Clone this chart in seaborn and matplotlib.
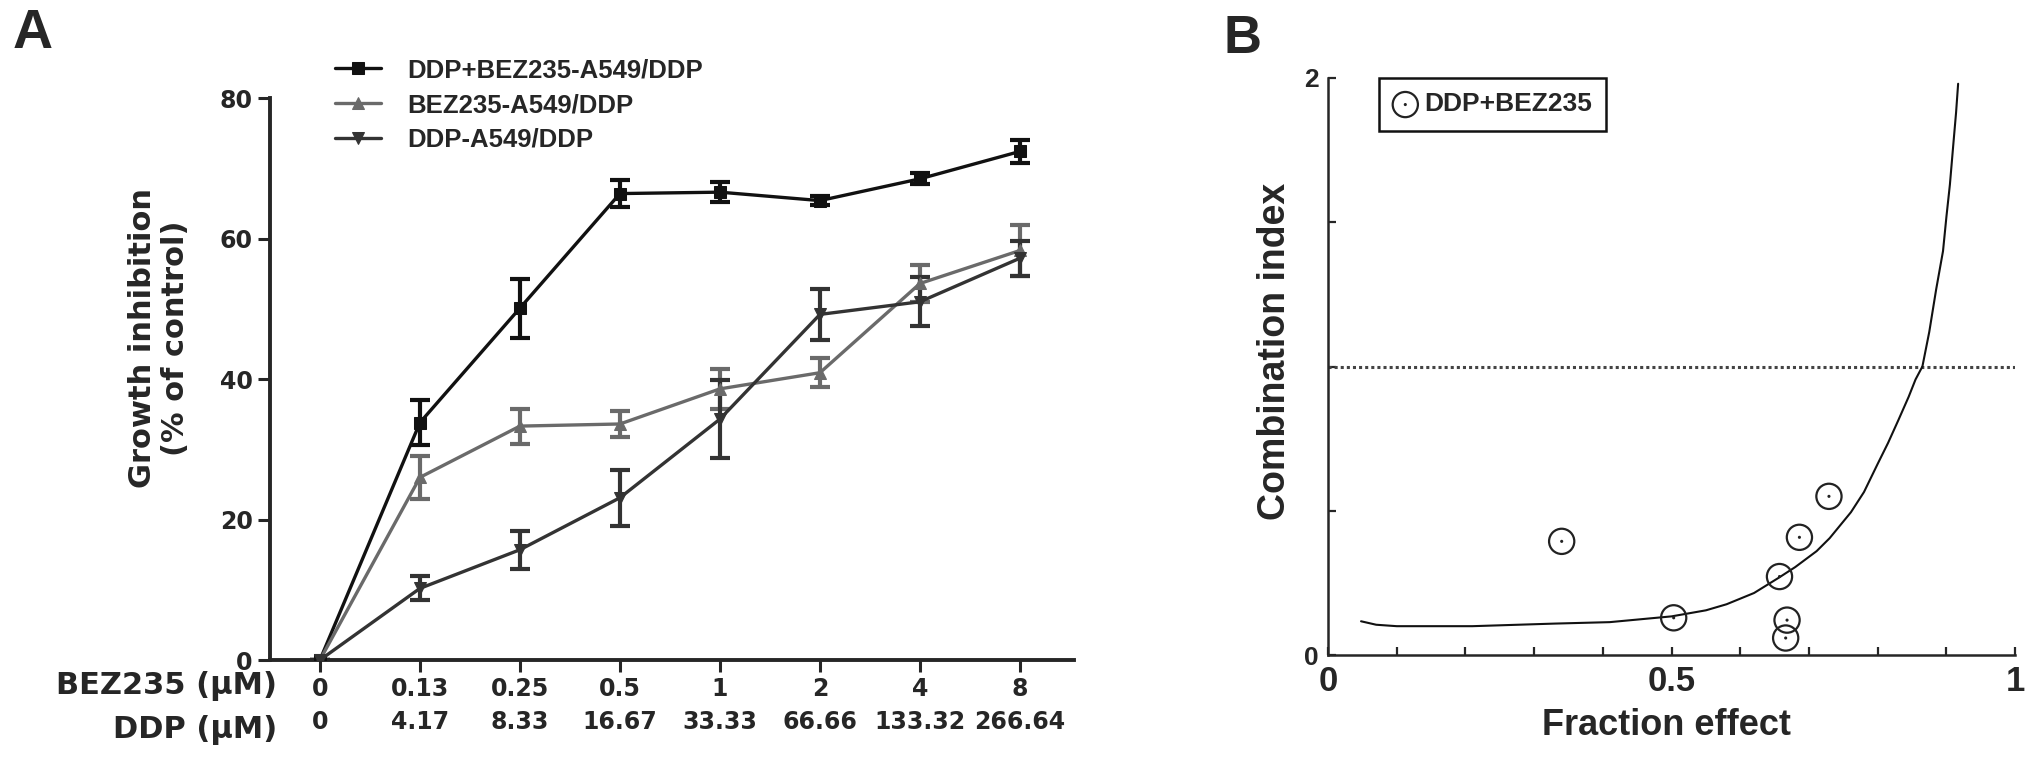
import numpy as np
import matplotlib
matplotlib.use("Agg")
import matplotlib.pyplot as plt
import seaborn as sns
from matplotlib.legend_handler import HandlerTuple

# ========= DATA =========
bez_doses = ["0", "0.13", "0.25", "0.5", "1", "2", "4", "8"]
ddp_doses = ["0", "4.17", "8.33", "16.67", "33.33", "66.66", "133.32", "266.64"]

combo_mean = [0, 33.8, 50.1, 66.4, 66.6, 65.4, 68.5, 72.4]
combo_err = [0, 3.2, 4.2, 1.9, 1.4, 0.6, 0.8, 1.6]
bez_mean = [0, 26.0, 33.3, 33.6, 38.6, 40.9, 53.6, 58.3]
bez_err = [0, 3.1, 2.5, 1.8, 2.8, 2.1, 2.6, 3.6]
ddp_mean = [0, 10.2, 15.7, 23.1, 34.3, 49.2, 51.0, 57.2]
ddp_err = [0, 1.7, 2.7, 4.0, 5.6, 3.6, 3.5, 2.5]

series_names = ["DDP+BEZ235-A549/DDP", "BEZ235-A549/DDP", "DDP-A549/DDP"]

# panel B: fraction affected vs combination index
fa_points = [0.34, 0.503, 0.657, 0.686, 0.729, 0.668, 0.666]
ci_points = [0.394, 0.129, 0.272, 0.408, 0.550, 0.121, 0.059]

curve_fa = [0.048, 0.07, 0.10, 0.21, 0.33, 0.41, 0.50, 0.55, 0.58, 0.62, 0.656,
            0.68, 0.711, 0.73, 0.761, 0.78, 0.80, 0.815, 0.83, 0.845, 0.855,
            0.865, 0.875, 0.885, 0.895, 0.90, 0.905, 0.91, 0.914, 0.917]
curve_ci = [0.117, 0.105, 0.10, 0.10, 0.109, 0.114, 0.134, 0.155, 0.176, 0.215, 0.268,
            0.305, 0.36, 0.405, 0.495, 0.565, 0.663, 0.735, 0.814, 0.895, 0.955,
            1.0, 1.12, 1.267, 1.40, 1.52, 1.63, 1.77, 1.88, 1.98]

# ========= STYLE =========
sns.set_style("ticks")
plt.rcParams["font.family"] = ["DejaVu Sans"]
ARIAL = ["Liberation Sans", "DejaVu Sans"]

fig = plt.figure(figsize=(20.31, 7.57), dpi=100)
axA = fig.add_axes([0.1329, 0.1281, 0.3959, 0.7424])
axB = fig.add_axes([0.6539, 0.1347, 0.3383, 0.7623])

# ========= PANEL A =========
x_pos = np.arange(len(bez_doses))
colors = ["#111111", "#6a6a6a", "#333333"]
markers = ["s", "^", "v"]
means = [combo_mean, bez_mean, ddp_mean]
errs = [combo_err, bez_err, ddp_err]

for name, m, e, c, mk in zip(series_names, means, errs, colors, markers):
    axA.errorbar(x_pos, m, yerr=e, fmt="none", ecolor=c, elinewidth=3.0,
                 capsize=7, capthick=3.0, zorder=2)
    sns.lineplot(x=x_pos, y=m, ax=axA, color=c, marker=mk, markersize=9,
                 markeredgecolor=c, linewidth=2.4, label=name, zorder=3)

handles, labels = axA.get_legend_handles_labels()
if axA.get_legend() is not None:
    axA.get_legend().remove()
fig.legend(handles, labels, loc="upper left", bbox_to_anchor=(0.165, 0.923),
           frameon=False, prop={"family": ARIAL, "weight": "bold", "size": 18.5},
           handlelength=1.8, handletextpad=1.0, labelspacing=0.42,
           borderpad=0, borderaxespad=0)

axA.set_xlim(-0.5, 7.54)
axA.set_ylim(0, 80)
axA.set_yticks([0, 20, 40, 60, 80])
axA.set_xticks(x_pos)
axA.set_xticklabels([f"{b}\n{d}" for b, d in zip(bez_doses, ddp_doses)],
                    linespacing=1.45)
for lab in axA.get_xticklabels():
    lab.set_fontweight("bold")
    lab.set_fontsize(17)
for lab in axA.get_yticklabels():
    lab.set_fontweight("bold")
    lab.set_fontsize(17)
axA.tick_params(axis="both", direction="out", length=8.5, width=2.2, pad=4)
sns.despine(ax=axA)
for s in ["left", "bottom"]:
    axA.spines[s].set_linewidth(2.8)

axA.set_ylabel("Growth inhibition\n(% of control)", fontsize=22,
               fontweight="bold", linespacing=1.15)
axA.yaxis.set_label_coords(-0.10, 0.573)

axA.text(0.009, -0.046, "BEZ235 (μM)", transform=axA.transAxes, ha="right",
         va="center", fontsize=22, fontweight="bold")
axA.text(0.009, -0.124, "DDP (μM)", transform=axA.transAxes, ha="right",
         va="center", fontsize=22, fontweight="bold")

# ========= PANEL B =========
axB.axhline(1.0, color="#444444", linewidth=2.2, linestyle=(0, (1, 1)), zorder=1)
sns.lineplot(x=curve_fa, y=curve_ci, ax=axB, sort=False, color="#111111",
             linewidth=1.5, zorder=2)
sns.scatterplot(x=fa_points, y=ci_points, ax=axB, s=330, marker="o",
                facecolor="none", edgecolor="#222222", linewidth=1.6, zorder=3)
sns.scatterplot(x=fa_points, y=ci_points, ax=axB, s=5, marker="o",
                color="#222222", edgecolor="none", zorder=4)

ring, dot = axB.collections[-2], axB.collections[-1]
axB.legend([(ring, dot)], ["DDP+BEZ235"], handler_map={tuple: HandlerTuple(ndivide=1)},
           loc="upper left", bbox_to_anchor=(0.074, 1.0), borderaxespad=0,
           prop={"family": ARIAL, "weight": "bold", "size": 19},
           handlelength=0.9, handletextpad=0.25, borderpad=0.55,
           frameon=True, fancybox=False, edgecolor="#111111", framealpha=1)
axB.get_legend().get_frame().set_linewidth(1.8)

axB.set_xlim(0, 1)
axB.set_ylim(0, 2)
xt = np.round(np.arange(0, 1.01, 0.1), 1)
axB.set_xticks(xt)
axB.set_xticklabels([{0.0: "0", 0.5: "0.5", 1.0: "1"}.get(v, "") for v in xt],
                    fontfamily=ARIAL, fontweight="bold", fontsize=25)
axB.set_yticks([0, 0.5, 1, 1.5, 2])
axB.set_yticklabels(["0", "", "", "", "2"], fontfamily=ARIAL,
                    fontweight="bold", fontsize=19)
axB.tick_params(axis="both", direction="in", length=6, width=1.6, pad=7)
sns.despine(ax=axB)
for s in ["left", "bottom"]:
    axB.spines[s].set_linewidth(1.8)

axB.set_xlabel("Fraction effect", fontfamily=ARIAL, fontweight="bold", fontsize=26)
axB.xaxis.set_label_coords(0.493, -0.092)
axB.set_ylabel("Combination index", fontfamily=ARIAL, fontweight="bold", fontsize=27)
axB.yaxis.set_label_coords(-0.051, 0.527)

# ========= PANEL LETTERS =========
fig.text(0.016, 0.955, "A", fontfamily=ARIAL, fontweight="bold", fontsize=40,
         ha="center", va="center")
fig.text(0.612, 0.948, "B", fontfamily=ARIAL, fontweight="bold", fontsize=38,
         ha="center", va="center")

fig.savefig("out.png", dpi=100)
